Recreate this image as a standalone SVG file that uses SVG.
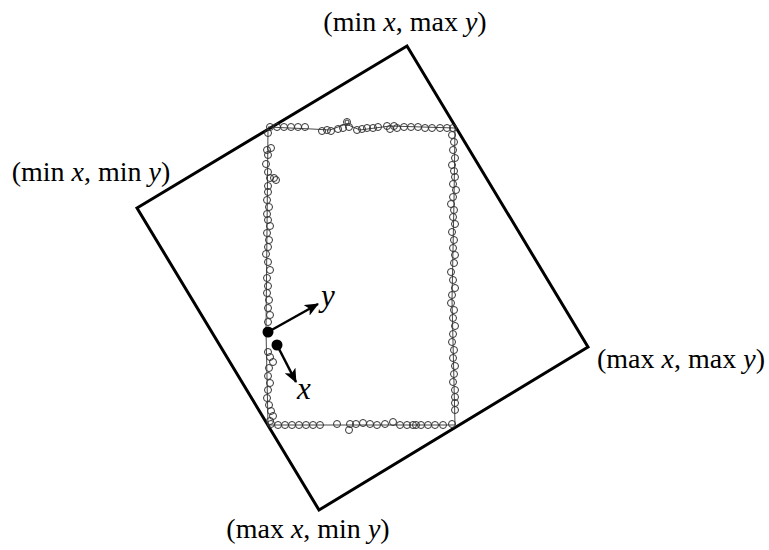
<svg xmlns="http://www.w3.org/2000/svg" width="769" height="550" viewBox="0 0 769 550">
<style>
.lbl{font-family:"Liberation Serif","DejaVu Serif",serif;font-size:28px;fill:#000}
.it{font-style:italic}
.ax{font-size:31px}
.frame{fill:none;stroke:#000;stroke-width:3;stroke-linejoin:miter}
.track{fill:none;stroke:#333;stroke-width:0.9}
.pt circle{fill:none;stroke:#333;stroke-width:1}
.axis{stroke:#000;stroke-width:2.5;fill:none}
</style>
<defs>
<marker id="ah" viewBox="0 0 14 12" refX="13" refY="6" markerWidth="14" markerHeight="12" markerUnits="userSpaceOnUse" orient="auto">
<path d="M0,0 L14,6 L0,12 L3.5,6 Z" fill="#000"/>
</marker>
</defs>
<rect width="769" height="550" fill="#fff"/>
<g id="frame">
<polygon class="frame" points="137,208 407,46 588,347 319,510"/>
</g>
<g id="track">
<polyline class="track" points="268,127 312,129 330,130 346,124 360,130 390,126 455,128 454,200 452,300 455,425 268,425 266,330 268,128"/>
<g class="pt">
<circle cx="270" cy="127" r="3.5"/><circle cx="277" cy="127" r="3.5"/><circle cx="284" cy="127" r="3.5"/><circle cx="291" cy="127" r="3.5"/><circle cx="298" cy="127" r="3.5"/><circle cx="305" cy="127" r="3.5"/>
<circle cx="322" cy="131" r="3.5"/><circle cx="327" cy="130" r="3.5"/><circle cx="331" cy="131" r="3.5"/><circle cx="338" cy="129" r="3.5"/><circle cx="343" cy="128" r="3.5"/><circle cx="347" cy="122" r="3.5"/><circle cx="347" cy="122" r="2"/><circle cx="349" cy="127" r="3.5"/>
<circle cx="357" cy="130" r="3.5"/><circle cx="362" cy="129" r="3.5"/><circle cx="367" cy="128" r="3.5"/><circle cx="373" cy="128" r="3.5"/><circle cx="378" cy="127" r="3.5"/><circle cx="387" cy="126" r="3.5"/><circle cx="390" cy="129" r="3.5"/><circle cx="394" cy="126" r="3.5"/><circle cx="397" cy="128" r="3.5"/><circle cx="404" cy="127" r="3.5"/><circle cx="411" cy="127" r="3.5"/><circle cx="418" cy="127" r="3.5"/><circle cx="425" cy="128" r="3.5"/><circle cx="432" cy="128" r="3.5"/><circle cx="440" cy="128" r="3.5"/><circle cx="447" cy="128" r="3.5"/><circle cx="453" cy="128" r="3.5"/>
<circle cx="268" cy="133" r="3.5"/><circle cx="267" cy="150" r="3.5"/><circle cx="271" cy="148" r="3.5"/><circle cx="268" cy="155" r="3.5"/><circle cx="266" cy="164" r="3.5"/><circle cx="268" cy="172" r="3.5"/><circle cx="270" cy="178" r="3.5"/><circle cx="268" cy="186" r="3.5"/><circle cx="274" cy="178" r="3.5"/><circle cx="276" cy="180" r="3.5"/><circle cx="268" cy="192" r="3.5"/><circle cx="267" cy="200" r="3.5"/><circle cx="269" cy="207" r="3.5"/><circle cx="267" cy="214" r="3.5"/><circle cx="268" cy="220" r="3.5"/><circle cx="270" cy="226" r="3.5"/><circle cx="267" cy="233" r="3.5"/><circle cx="269" cy="240" r="3.5"/><circle cx="268" cy="247" r="3.5"/><circle cx="266" cy="254" r="3.5"/><circle cx="268" cy="262" r="3.5"/><circle cx="270" cy="270" r="3.5"/><circle cx="267" cy="278" r="3.5"/><circle cx="268" cy="286" r="3.5"/><circle cx="267" cy="293" r="3.5"/><circle cx="269" cy="300" r="3.5"/><circle cx="268" cy="308" r="3.5"/><circle cx="270" cy="315" r="3.5"/><circle cx="268" cy="322" r="3.5"/>
<circle cx="268" cy="352" r="3.5"/><circle cx="270" cy="357" r="3.5"/><circle cx="273" cy="362" r="3.5"/><circle cx="269" cy="368" r="3.5"/><circle cx="268" cy="376" r="3.5"/><circle cx="270" cy="383" r="3.5"/><circle cx="268" cy="390" r="3.5"/><circle cx="267" cy="398" r="3.5"/><circle cx="269" cy="405" r="3.5"/><circle cx="271" cy="411" r="3.5"/><circle cx="273" cy="416" r="3.5"/><circle cx="270" cy="421" r="3.5"/>
<circle cx="452" cy="135" r="3.5"/><circle cx="454" cy="142" r="3.5"/><circle cx="453" cy="150" r="3.5"/><circle cx="455" cy="158" r="3.5"/><circle cx="452" cy="165" r="3.5"/><circle cx="454" cy="171" r="3.5"/><circle cx="455" cy="177" r="3.5"/><circle cx="453" cy="184" r="3.5"/><circle cx="456" cy="190" r="3.5"/><circle cx="453" cy="197" r="3.5"/><circle cx="451" cy="204" r="3.5"/><circle cx="454" cy="210" r="3.5"/><circle cx="453" cy="217" r="3.5"/><circle cx="455" cy="224" r="3.5"/><circle cx="452" cy="232" r="3.5"/><circle cx="454" cy="240" r="3.5"/><circle cx="453" cy="248" r="3.5"/><circle cx="455" cy="255" r="3.5"/><circle cx="454" cy="263" r="3.5"/><circle cx="451" cy="272" r="3.5"/><circle cx="453" cy="280" r="3.5"/><circle cx="455" cy="288" r="3.5"/><circle cx="452" cy="295" r="3.5"/><circle cx="451" cy="303" r="3.5"/><circle cx="454" cy="310" r="3.5"/><circle cx="453" cy="318" r="3.5"/><circle cx="455" cy="326" r="3.5"/><circle cx="453" cy="334" r="3.5"/><circle cx="452" cy="342" r="3.5"/><circle cx="454" cy="350" r="3.5"/><circle cx="453" cy="358" r="3.5"/><circle cx="455" cy="366" r="3.5"/><circle cx="454" cy="374" r="3.5"/><circle cx="453" cy="382" r="3.5"/><circle cx="455" cy="390" r="3.5"/><circle cx="455" cy="397" r="3.5"/><circle cx="455" cy="403" r="3.5"/><circle cx="455" cy="410" r="3.5"/>
<circle cx="271" cy="424" r="3.5"/><circle cx="278" cy="425" r="3.5"/><circle cx="285" cy="425" r="3.5"/><circle cx="292" cy="425" r="3.5"/><circle cx="299" cy="425" r="3.5"/><circle cx="306" cy="425" r="3.5"/><circle cx="313" cy="425" r="3.5"/><circle cx="320" cy="425" r="3.5"/><circle cx="337" cy="424" r="3.5"/><circle cx="349" cy="430" r="3.5"/><circle cx="350" cy="424" r="3.5"/><circle cx="356" cy="424" r="3.5"/><circle cx="363" cy="423" r="3.5"/><circle cx="370" cy="424" r="3.5"/><circle cx="377" cy="425" r="3.5"/><circle cx="385" cy="424" r="3.5"/><circle cx="393" cy="422" r="3.5"/><circle cx="400" cy="425" r="3.5"/><circle cx="407" cy="425" r="3.5"/><circle cx="413" cy="425" r="3.5"/><circle cx="416" cy="425" r="3.5"/><circle cx="421" cy="425" r="3.5"/><circle cx="428" cy="425" r="3.5"/><circle cx="435" cy="425" r="3.5"/><circle cx="443" cy="425" r="3.5"/><circle cx="452" cy="424" r="3.5"/>
</g>
</g>
<g id="connectors">
<line class="axis" x1="268" y1="332" x2="318" y2="304" marker-end="url(#ah)"/>
<line class="axis" x1="277" y1="345" x2="296" y2="382" marker-end="url(#ah)"/>
</g>
<g id="origin">
<circle cx="268" cy="332" r="5.5" fill="#000"/>
<circle cx="277" cy="345" r="5.5" fill="#000"/>
</g>
<g id="axis-labels">
<text class="lbl it ax" x="321" y="306">y</text>
<text class="lbl it ax" x="297" y="399">x</text>
</g>
<g id="corner-labels">
<text class="lbl" x="405" y="31" text-anchor="middle">(min <tspan class="it">x</tspan>, max <tspan class="it">y</tspan>)</text>
<text class="lbl" x="91" y="181" text-anchor="middle">(min <tspan class="it">x</tspan>, min <tspan class="it">y</tspan>)</text>
<text class="lbl" x="681" y="368" text-anchor="middle">(max <tspan class="it">x</tspan>, max <tspan class="it">y</tspan>)</text>
<text class="lbl" x="308" y="538" text-anchor="middle">(max <tspan class="it">x</tspan>, min <tspan class="it">y</tspan>)</text>
</g>
</svg>
